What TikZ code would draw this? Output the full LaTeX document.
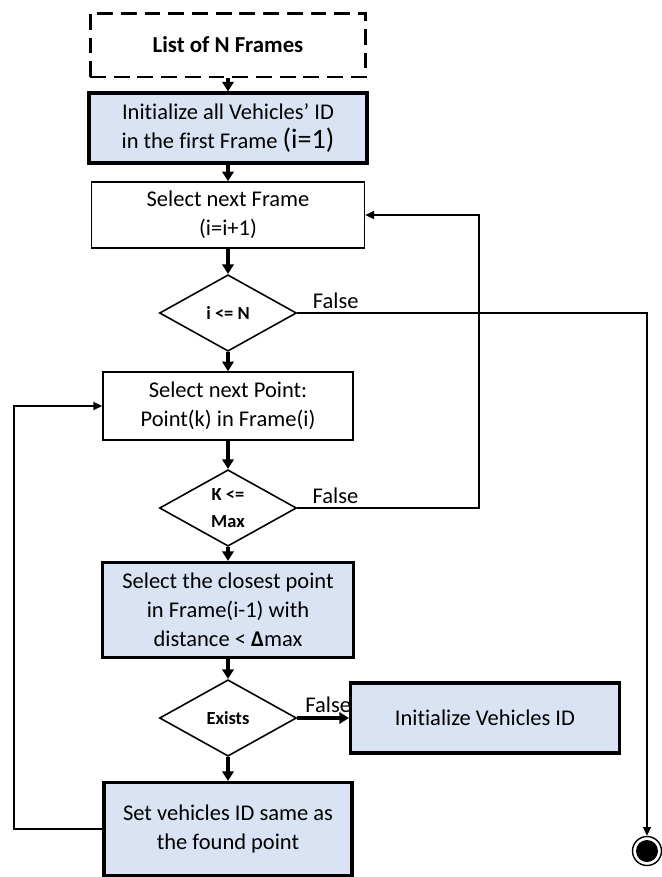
\documentclass[tikz,border=0pt]{standalone}
\usepackage{fontspec}
\setmainfont{Carlito}[Ligatures=CommonOff]
\usetikzlibrary{shapes.geometric,arrows.meta}
\definecolor{boxblue}{RGB}{218,227,243}

\begin{document}
\begin{tikzpicture}[x=0.02cm,y=-0.02cm,
  font=\fontsize{12.8}{16.5}\selectfont,
  plainbox/.style={draw,line width=0.9pt,align=center,inner sep=0pt},
  bluebox/.style={plainbox,fill=boxblue,line width=1.8pt},
  decision/.style={draw,diamond,line width=0.9pt,inner sep=0pt,align=center,
    minimum width=2.74cm,minimum height=1.53cm,
    font=\fontsize{10.5}{15}\selectfont\bfseries},
  flow/.style={line width=2pt,-{Triangle[length=5.5pt,width=6.5pt]}},
  back/.style={line width=0.8pt,-{Triangle[length=5pt,width=4.5pt]}},
  lbl/.style={above,inner sep=2pt}]
\useasboundingbox (0,0) rectangle (662,877);

\node[plainbox,line width=1.7pt,dash pattern=on 9pt off 4.5pt,
      minimum width=5.52cm,minimum height=1.28cm,font=\fontsize{13}{16.5}\selectfont\bfseries]
      (list) at (228,45) {List of N Frames};
\node[bluebox,minimum width=5.56cm,minimum height=1.4cm] (init) at (228,128)
      {Initialize all Vehicles’ ID\\in the first Frame {\fontsize{16}{16.5}\selectfont(i=1)}};
\node[plainbox,minimum width=5.46cm,minimum height=1.32cm] (frame) at (228,215)
      {Select next Frame\\(i=i+1)};
\node[decision] (iN) at (228,313) {i <= N};
\node[plainbox,minimum width=5cm,minimum height=1.36cm] (point) at (228,406)
      {Select next Point:\\Point(k) in Frame(i)};
\node[decision] (kmax) at (228,508) {K <=\\Max};
\node[bluebox,minimum width=5.02cm,minimum height=1.9cm] (closest) at (228,610)
      {Select the closest point\\in Frame(i-1) with\\distance < {\bfseries Δ}max};
\node[decision] (exists) at (228,718) {Exists};
\node[bluebox,minimum width=5.38cm,minimum height=1.4cm] (initveh) at (485,718)
      {Initialize Vehicles ID};
\node[bluebox,minimum width=4.96cm,minimum height=1.86cm] (setid) at (228,829)
      {Set vehicles ID same as\\the found point};
\node[circle,draw,line width=0.8pt,minimum size=0.58cm,inner sep=0pt] (stop) at (647,851) {};
\fill (stop.center) circle (0.22cm);

\coordinate (c1) at (647,313);
\coordinate (c2) at (479,508);
\coordinate (c3) at (479,215);
\coordinate (c4) at (14,829);
\coordinate (c5) at (14,406);

\draw[flow] (list) -- (init);
\draw[flow] (init) -- (frame);
\draw[flow] (frame) -- (iN);
\draw[flow] (iN) -- (point);
\draw[flow] (point) -- (kmax);
\draw[flow] (kmax) -- (closest);
\draw[flow] (closest) -- (exists);
\draw[flow] (exists) -- (setid);
\draw[flow] (exists) -- node[lbl,pos=0.6]{False} (initveh);

\draw[back] (iN.east) -- node[lbl,pos=0.11]{False} (c1) -- (stop.north);
\draw[back] (kmax.east) -- node[lbl,pos=0.21]{False} (c2) -- (c3) -- (frame.east);
\draw[back] (setid.west) -- (c4) -- (c5) -- (point.west);
\end{tikzpicture}
\end{document}
